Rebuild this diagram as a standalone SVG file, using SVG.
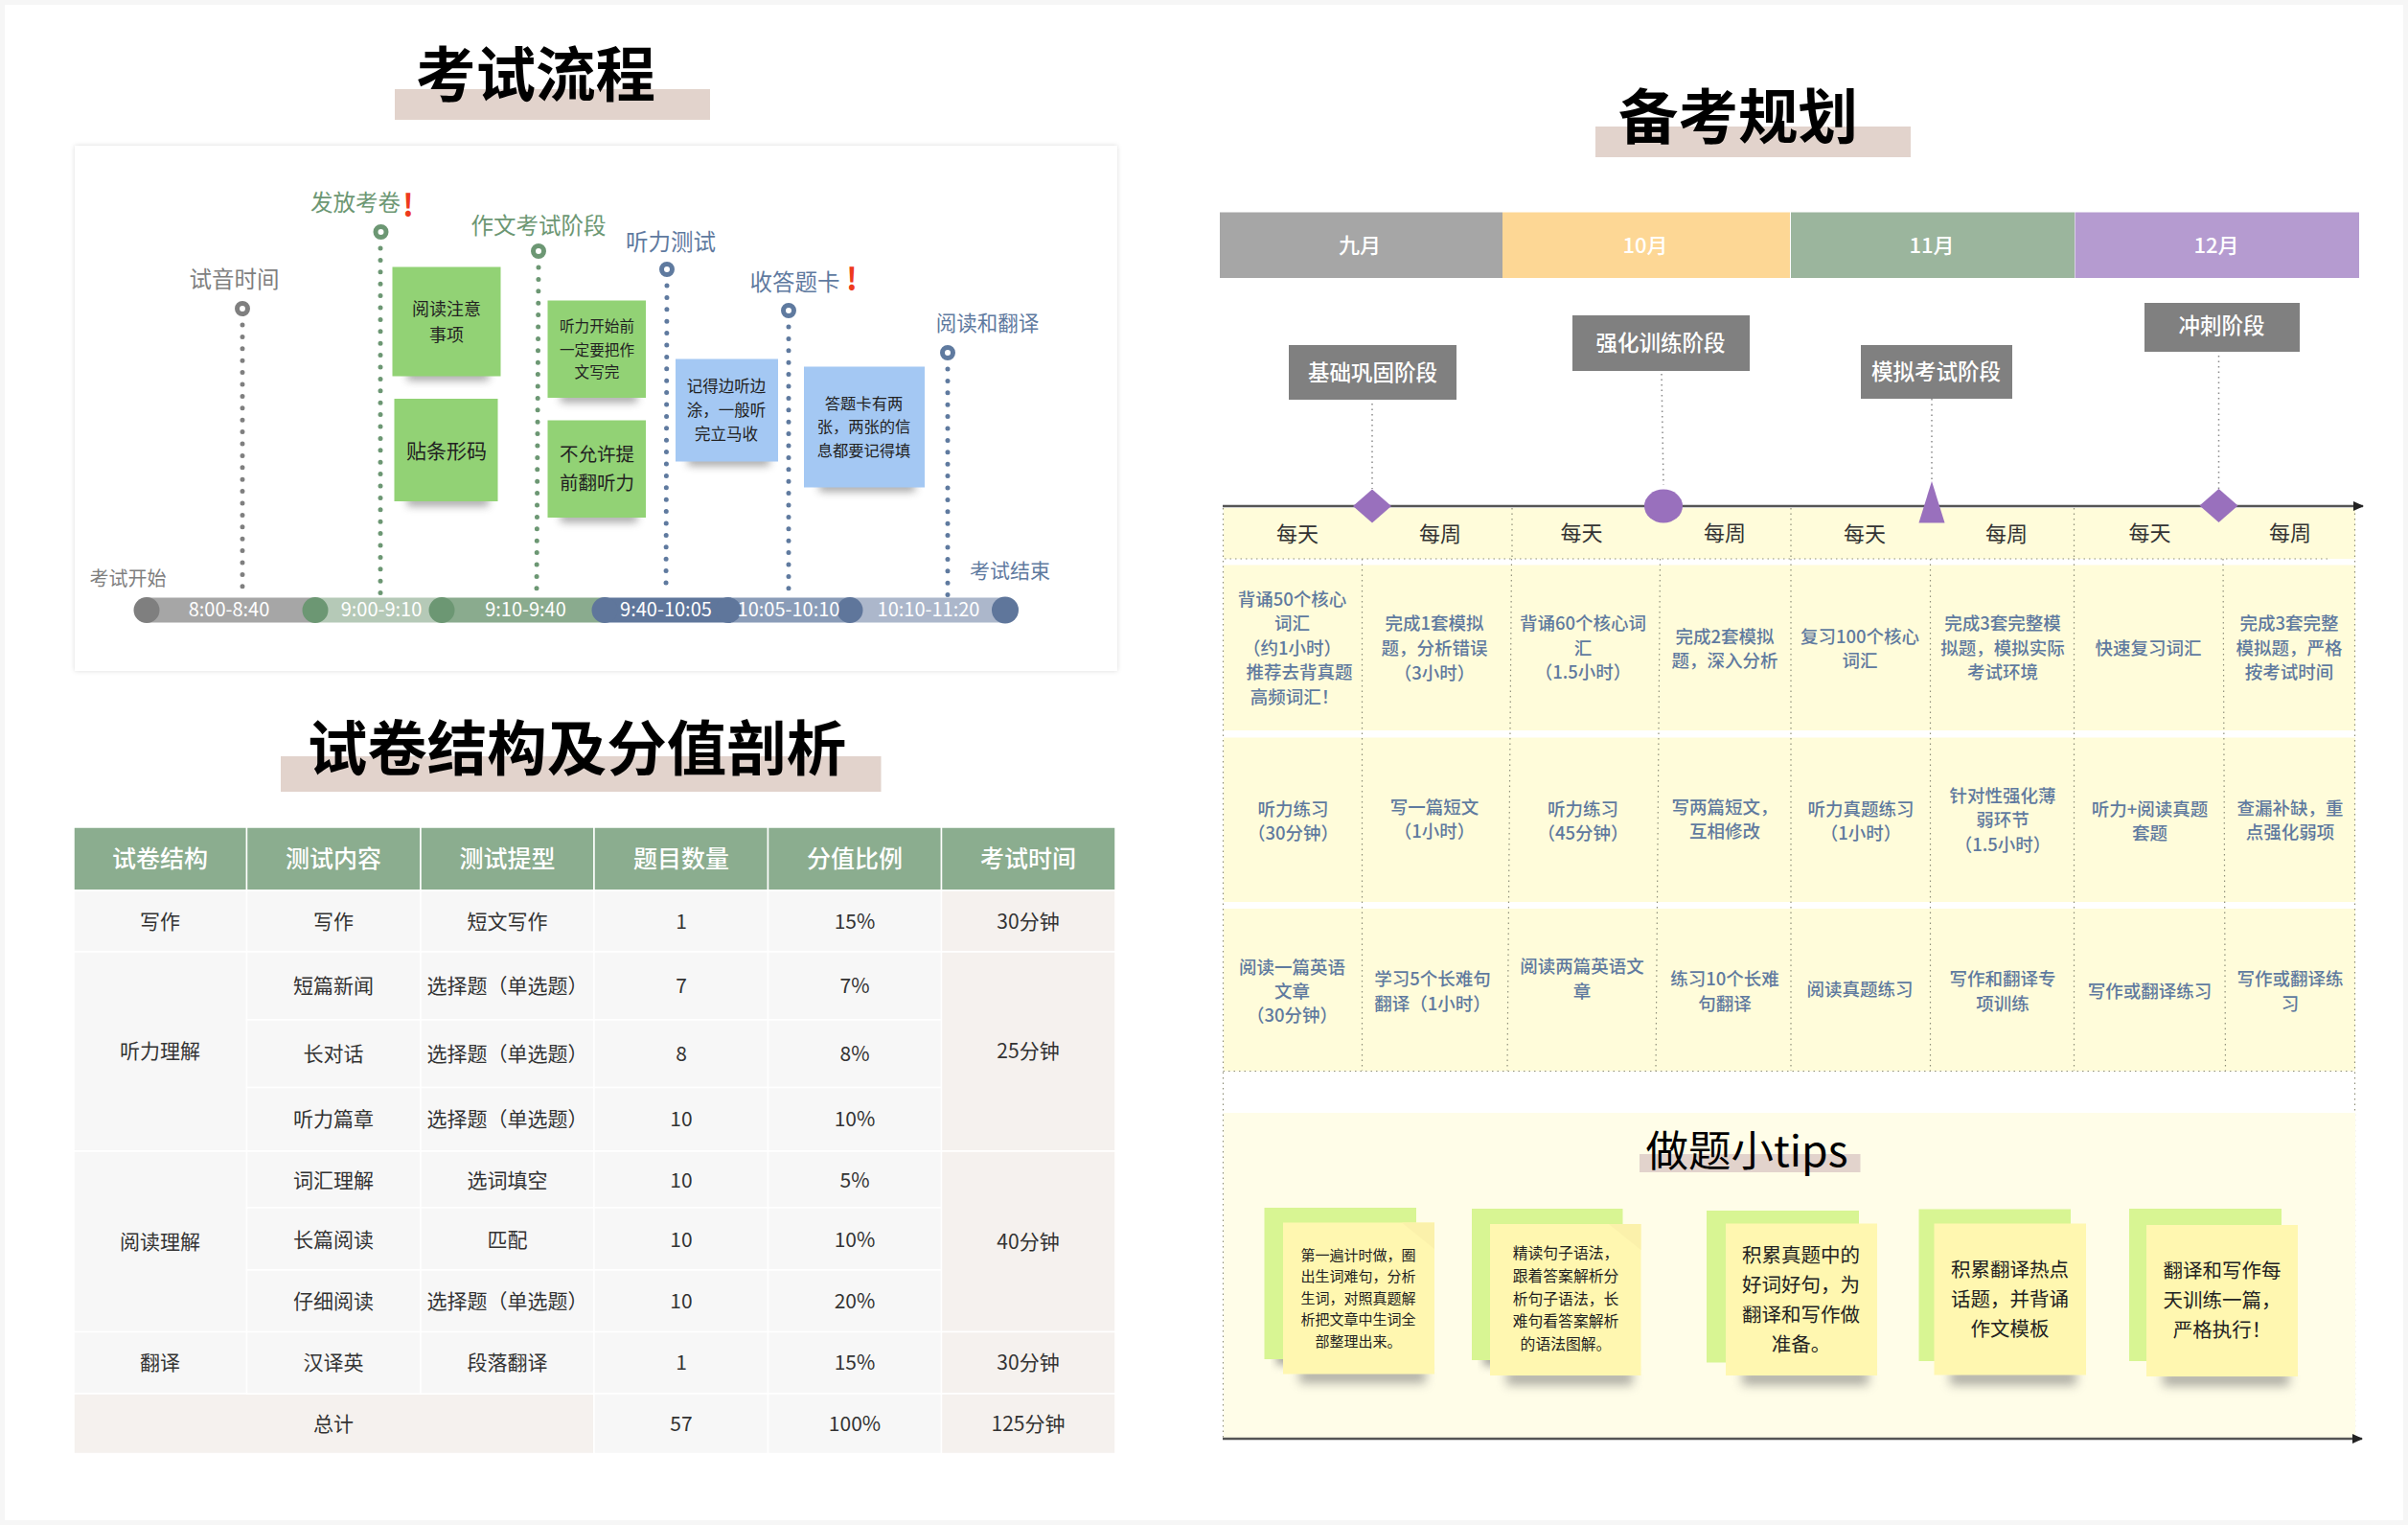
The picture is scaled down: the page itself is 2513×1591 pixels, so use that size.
<svg xmlns="http://www.w3.org/2000/svg" width="2513" height="1591" viewBox="0 0 2513 1591">
<style>
text{font-family:"Noto Sans CJK SC","Noto Sans",sans-serif;text-anchor:middle;dominant-baseline:central;baseline-shift:.07em}
.title{font-size:62.5px;font-weight:700;fill:#000;dominant-baseline:auto;baseline-shift:0}
.tipt{font-size:44.5px;fill:#000;dominant-baseline:auto;baseline-shift:0}
.bar{fill:#e2d3cc}
.seg{font-size:20px;fill:#fff}
.gy{fill:#7f7f7f}.gn{fill:#6c9773}.bl{fill:#5f7a9f}
.tl{font-size:23.5px}
.red{font-size:32px;font-weight:700;fill:#ee3a1c}
.ring{fill:#fff;stroke-width:5}
.ddot{fill:none;stroke-width:5;stroke-linecap:round;stroke-dasharray:0 12.4}
.thin{fill:none;stroke:#8a8a8a;stroke-width:1.5;stroke-dasharray:1.5 4}
.grid{fill:none;stroke:#8f8f7a;stroke-width:1.2;stroke-dasharray:1.5 4}
.sg{fill:#92d275}.sb{fill:#a4c8f3}
.st{fill:#222}
.sh{fill:#6e6e6e;opacity:.6;filter:url(#blur)}
.sh2{fill:#6e6e6e;opacity:.55;filter:url(#blur2)}
.th{fill:#8bad8f;stroke:#fff;stroke-width:1.5}
.tht{font-size:25px;font-weight:500;fill:#fff}
.td{fill:#f7f7f7;stroke:#fff;stroke-width:1.5}
.tt{fill:#f5f1ee;stroke:#fff;stroke-width:1.5}
.tdt{font-size:21px;fill:#333}
.mon{font-size:22px;font-weight:500;fill:#fff}
.ph{fill:#808080}
.pht{font-size:22.5px;font-weight:500;fill:#fff}
.mk{fill:#9970bd}
.yl{fill:#fffcda}
.wd{font-size:22px;fill:#333}
.ct{font-size:18.5px;font-weight:500;fill:#5f7a9f}
.bk{fill:#d8f593}.fr{fill:#fff7b0}.fold{fill:#fbf1ab}
.ax{stroke:#555;stroke-width:2.5;fill:none;marker-end:url(#arr)}
</style>
<defs>
<filter id="blur" x="-30%" y="-200%" width="160%" height="500%"><feGaussianBlur stdDeviation="4"/></filter>
<filter id="blur2" x="-30%" y="-200%" width="160%" height="500%"><feGaussianBlur stdDeviation="5.5"/></filter>
<filter id="card" x="-3%" y="-3%" width="106%" height="106%"><feDropShadow dx="0" dy="0" stdDeviation="2.5" flood-color="#000" flood-opacity=".14"/></filter>
<marker id="arr" markerUnits="userSpaceOnUse" markerWidth="12" markerHeight="10" refX="10" refY="5" orient="auto"><path d="M0 0L11 5L0 10z" fill="#222"/></marker>
</defs>
<rect width="2513" height="1591" fill="#f6f6f6"/>
<rect x="5" y="5" width="2503" height="1581" fill="#fff"/>

<g id="title-exam"><rect class="bar" x="412" y="93" width="329" height="32"/><text class="title" x="559" y="101">考试流程</text></g>
<g id="timeline-card"><rect x="78" y="152" width="1088" height="548" fill="#fff" filter="url(#card)"/></g>

<g id="connectors">
<path class="ddot" stroke="#7f7f7f" d="M253 339V624"/>
<path class="ddot" stroke="#6c9773" d="M397 259V620"/>
<path class="ddot" stroke="#6c9773" d="M562 279L560 616"/>
<path class="ddot" stroke="#5f7a9f" d="M696 298L695 620"/>
<path class="ddot" stroke="#5f7a9f" d="M823 341V616"/>
<path class="ddot" stroke="#5f7a9f" d="M989 385V623"/>
<path class="thin" d="M1432 421V510"/>
<path class="thin" d="M1734 390L1736 506"/>
<path class="thin" d="M2016 416V501"/>
<path class="thin" d="M2315.5 371V510"/>
</g>

<g id="time-bar">
<rect x="153" y="623.5" width="176" height="26" fill="#a6a6a6"/>
<rect x="329" y="623.5" width="132" height="26" fill="#b5c9b7"/>
<rect x="461" y="623.5" width="170" height="26" fill="#8aab8e"/>
<rect x="631" y="623.5" width="128" height="26" fill="#5f769b"/>
<rect x="759" y="623.5" width="128" height="26" fill="#8a9cb8"/>
<rect x="887" y="623.5" width="162" height="26" fill="#acb7cb"/>
<circle cx="153" cy="636.5" r="13.5" fill="#7f7f7f"/>
<circle cx="329" cy="636.5" r="13.5" fill="#6c9773"/>
<circle cx="461" cy="636.5" r="13.5" fill="#6c9773"/>
<circle cx="631" cy="636.5" r="13.5" fill="#5f769b"/>
<circle cx="760" cy="636.5" r="13.5" fill="#5f769b"/>
<circle cx="887" cy="636.5" r="13.5" fill="#5f769b"/>
<circle cx="1049" cy="636.5" r="14" fill="#5f769b"/>
<text class="seg" x="239" y="636">8:00-8:40</text>
<text class="seg" x="398" y="636">9:00-9:10</text>
<text class="seg" x="548.500" y="636">9:10-9:40</text>
<text class="seg" x="695" y="636">9:40-10:05</text>
<text class="seg" x="823" y="636">10:05-10:10</text>
<text class="seg" x="969" y="636">10:10-11:20</text>
</g>

<g id="step-audio"><circle class="ring" stroke="#7f7f7f" cx="253" cy="322" r="5.500"/><text class="tl gy" x="244.500" y="292">试音时间</text></g>
<g id="step-paper"><circle class="ring" stroke="#6c9773" cx="397.500" cy="242" r="5.500"/><text class="tl gn" x="371" y="212">发放考卷</text><text class="red" x="426" y="214">!</text></g>
<g id="step-writing"><circle class="ring" stroke="#6c9773" cx="562" cy="262" r="5.500"/><text class="tl gn" x="562" y="236">作文考试阶段</text></g>
<g id="step-listening"><circle class="ring" stroke="#5f7a9f" cx="696" cy="281" r="5.500"/><text class="tl bl" x="700" y="253">听力测试</text></g>
<g id="step-card"><circle class="ring" stroke="#5f7a9f" cx="823" cy="324" r="5.500"/><text class="tl bl" x="829.500" y="295">收答题卡</text><text class="red" x="889" y="291">!</text></g>
<g id="step-reading"><circle class="ring" stroke="#5f7a9f" cx="989" cy="368" r="5.500"/><text class="bl" style="font-size:21.500px" x="1030.500" y="337">阅读和翻译</text></g>
<g id="label-start"><text class="gy" style="font-size:20px" x="133.500" y="604">考试开始</text></g>
<g id="label-end"><text class="bl" style="font-size:21px" x="1054" y="595.500">考试结束</text></g>

<g id="note-g1"><rect class="sh" x="425" y="386" width="85" height="11"/><rect class="sg" x="409.500" y="278.500" width="113" height="114"/><text class="st" style="font-size:18px"><tspan x="466" y="321.500">阅读注意</tspan><tspan x="466" y="349">事项</tspan></text></g>
<g id="note-g2"><rect class="sh" x="425" y="517" width="85" height="11"/><rect class="sg" x="411.500" y="416" width="108" height="107"/><text class="st" style="font-size:21px" x="466" y="470">贴条形码</text></g>
<g id="note-g3"><rect class="sh" x="585" y="409" width="80" height="11"/><rect class="sg" x="571.500" y="313.500" width="102.500" height="101.500"/><text class="st" style="font-size:15.600px"><tspan x="623" y="340">听力开始前</tspan><tspan x="623" y="364.500">一定要把作</tspan><tspan x="623" y="388">文写完</tspan></text></g>
<g id="note-g4"><rect class="sh" x="585" y="534" width="80" height="11"/><rect class="sg" x="571.500" y="438.500" width="102.500" height="101.500"/><text class="st" style="font-size:19.500px"><tspan x="623" y="474">不允许提</tspan><tspan x="623" y="504">前翻听力</tspan></text></g>
<g id="note-b1"><rect class="sh" x="718" y="475" width="85" height="11"/><rect class="sb" x="705" y="374.500" width="107" height="107"/><text class="st" style="font-size:16.500px"><tspan x="758" y="402.500">记得边听边</tspan><tspan x="758" y="428">涂，一般听</tspan><tspan x="758" y="453">完立马收</tspan></text></g>
<g id="note-b2"><rect class="sh" x="855" y="502" width="100" height="11"/><rect class="sb" x="839" y="382.500" width="126" height="126"/><text class="st" style="font-size:16.300px"><tspan x="901.500" y="421">答题卡有两</tspan><tspan x="901.500" y="445">张，两张的信</tspan><tspan x="901.500" y="470">息都要记得填</tspan></text></g>

<g id="title-analysis"><rect class="bar" x="293" y="789" width="626.500" height="37"/><text class="title" x="602" y="804">试卷结构及分值剖析</text></g>

<g id="table">
<g id="table-header">
<rect class="th" x="77" y="863" width="180.500" height="66"/><rect class="th" x="257.500" y="863" width="181.500" height="66"/><rect class="th" x="439" y="863" width="181" height="66"/><rect class="th" x="620" y="863" width="181.500" height="66"/><rect class="th" x="801.500" y="863" width="181" height="66"/><rect class="th" x="982.500" y="863" width="181.500" height="66"/>
<text class="tht" x="167" y="895.500">试卷结构</text><text class="tht" x="348" y="895.500">测试内容</text><text class="tht" x="529.500" y="895.500">测试提型</text><text class="tht" x="711" y="895.500">题目数量</text><text class="tht" x="892" y="895.500">分值比例</text><text class="tht" x="1073" y="895.500">考试时间</text>
</g>
<g id="table-cells">
<rect class="td" x="77" y="929" width="180.500" height="64"/><rect class="td" x="77" y="993" width="180.500" height="208"/><rect class="td" x="77" y="1201" width="180.500" height="188.500"/><rect class="td" x="77" y="1389.500" width="180.500" height="64.500"/>
<rect class="tt" x="77" y="1454" width="543" height="62.500"/>
<rect class="td" x="257.500" y="929" width="181.500" height="64"/><rect class="td" x="439" y="929" width="181" height="64"/><rect class="td" x="620" y="929" width="181.500" height="64"/><rect class="td" x="801.500" y="929" width="181" height="64"/>
<rect class="td" x="257.500" y="993" width="181.500" height="71"/><rect class="td" x="439" y="993" width="181" height="71"/><rect class="td" x="620" y="993" width="181.500" height="71"/><rect class="td" x="801.500" y="993" width="181" height="71"/>
<rect class="td" x="257.500" y="1064" width="181.500" height="70.500"/><rect class="td" x="439" y="1064" width="181" height="70.500"/><rect class="td" x="620" y="1064" width="181.500" height="70.500"/><rect class="td" x="801.500" y="1064" width="181" height="70.500"/>
<rect class="td" x="257.500" y="1134.500" width="181.500" height="66.500"/><rect class="td" x="439" y="1134.500" width="181" height="66.500"/><rect class="td" x="620" y="1134.500" width="181.500" height="66.500"/><rect class="td" x="801.500" y="1134.500" width="181" height="66.500"/>
<rect class="td" x="257.500" y="1201" width="181.500" height="59"/><rect class="td" x="439" y="1201" width="181" height="59"/><rect class="td" x="620" y="1201" width="181.500" height="59"/><rect class="td" x="801.500" y="1201" width="181" height="59"/>
<rect class="td" x="257.500" y="1260" width="181.500" height="65"/><rect class="td" x="439" y="1260" width="181" height="65"/><rect class="td" x="620" y="1260" width="181.500" height="65"/><rect class="td" x="801.500" y="1260" width="181" height="65"/>
<rect class="td" x="257.500" y="1325" width="181.500" height="64.500"/><rect class="td" x="439" y="1325" width="181" height="64.500"/><rect class="td" x="620" y="1325" width="181.500" height="64.500"/><rect class="td" x="801.500" y="1325" width="181" height="64.500"/>
<rect class="td" x="257.500" y="1389.500" width="181.500" height="64.500"/><rect class="td" x="439" y="1389.500" width="181" height="64.500"/><rect class="td" x="620" y="1389.500" width="181.500" height="64.500"/><rect class="td" x="801.500" y="1389.500" width="181" height="64.500"/>
<rect class="td" x="620" y="1454" width="181.500" height="62.500"/><rect class="td" x="801.500" y="1454" width="181" height="62.500"/>
<rect class="tt" x="982.500" y="929" width="181.500" height="64"/><rect class="tt" x="982.500" y="993" width="181.500" height="208"/><rect class="tt" x="982.500" y="1201" width="181.500" height="188.500"/><rect class="tt" x="982.500" y="1389.500" width="181.500" height="64.500"/><rect class="tt" x="982.500" y="1454" width="181.500" height="62.500"/>
</g>
<g id="table-text">
<text class="tdt" x="167" y="961">写作</text><text class="tdt" x="348" y="961">写作</text><text class="tdt" x="529.500" y="961">短文写作</text><text class="tdt" x="711" y="961">1</text><text class="tdt" x="892" y="961">15%</text><text class="tdt" x="1073" y="961">30分钟</text>
<text class="tdt" x="167" y="1096.500">听力理解</text><text class="tdt" x="1073" y="1096.500">25分钟</text>
<text class="tdt" x="348" y="1028.500">短篇新闻</text><text class="tdt" x="529.500" y="1028.500">选择题（单选题）</text><text class="tdt" x="711" y="1028.500">7</text><text class="tdt" x="892" y="1028.500">7%</text>
<text class="tdt" x="348" y="1099">长对话</text><text class="tdt" x="529.500" y="1099">选择题（单选题）</text><text class="tdt" x="711" y="1099">8</text><text class="tdt" x="892" y="1099">8%</text>
<text class="tdt" x="348" y="1167">听力篇章</text><text class="tdt" x="529.500" y="1167">选择题（单选题）</text><text class="tdt" x="711" y="1167">10</text><text class="tdt" x="892" y="1167">10%</text>
<text class="tdt" x="167" y="1295">阅读理解</text><text class="tdt" x="1073" y="1295">40分钟</text>
<text class="tdt" x="348" y="1231.500">词汇理解</text><text class="tdt" x="529.500" y="1231.500">选词填空</text><text class="tdt" x="711" y="1231.500">10</text><text class="tdt" x="892" y="1231.500">5%</text>
<text class="tdt" x="348" y="1293.500">长篇阅读</text><text class="tdt" x="529.500" y="1293.500">匹配</text><text class="tdt" x="711" y="1293.500">10</text><text class="tdt" x="892" y="1293.500">10%</text>
<text class="tdt" x="348" y="1357">仔细阅读</text><text class="tdt" x="529.500" y="1357">选择题（单选题）</text><text class="tdt" x="711" y="1357">10</text><text class="tdt" x="892" y="1357">20%</text>
<text class="tdt" x="167" y="1421">翻译</text><text class="tdt" x="348" y="1421">汉译英</text><text class="tdt" x="529.500" y="1421">段落翻译</text><text class="tdt" x="711" y="1421">1</text><text class="tdt" x="892" y="1421">15%</text><text class="tdt" x="1073" y="1421">30分钟</text>
<text class="tdt" x="348" y="1485.500">总计</text><text class="tdt" x="711" y="1485.500">57</text><text class="tdt" x="892" y="1485.500">100%</text><text class="tdt" x="1073" y="1485.500">125分钟</text>
</g>
</g>

<g id="title-plan"><rect class="bar" x="1665" y="132" width="329" height="32"/><text class="title" x="1814" y="145">备考规划</text></g>

<g id="months">
<rect x="1273" y="221.500" width="295" height="68.500" fill="#a6a6a6"/><rect x="1568" y="221.500" width="300" height="68.500" fill="#fdd795"/><rect x="1869" y="221.500" width="296" height="68.500" fill="#9bb59d"/><rect x="2165.500" y="221.500" width="296.500" height="68.500" fill="#b59bd0"/>
<text class="mon" x="1419" y="255.500">九月</text><text class="mon" x="1717" y="255.500">10月</text><text class="mon" x="2016" y="255.500">11月</text><text class="mon" x="2313" y="255.500">12月</text>
</g>

<g id="plan-grid">
<rect class="yl" x="1277" y="530" width="1181" height="53"/>
<rect class="yl" x="1277" y="589.500" width="1181" height="172.500"/>
<rect class="yl" x="1277" y="769.500" width="1181" height="171.500"/>
<rect class="yl" x="1277" y="948" width="1181" height="169.500"/>
<path class="grid" d="M1276.500 530V1500M2457.500 530V1500M1578 530V583M1869 530V583M2164.500 530V583M1278 583H2430M1276.500 1117.500H2458"/>
<path class="grid" d="M1421.500 583V1117M1577.500 583L1573 1117M1732.500 583L1728 1117M1869 583V1117M2014.500 583V1117M2164.500 583V1117M2320 583L2322.500 1117"/>
</g>

<g id="phase-1"><rect class="ph" x="1345" y="360" width="175" height="57"/><text class="pht" x="1432.500" y="388.500">基础巩固阶段</text></g>
<g id="phase-2"><rect class="ph" x="1641" y="329" width="185" height="58"/><text class="pht" x="1733" y="357.500">强化训练阶段</text></g>
<g id="phase-3"><rect class="ph" x="1942" y="360" width="158" height="56"/><text class="pht" x="2020.500" y="388">模拟考试阶段</text></g>
<g id="phase-4"><rect class="ph" x="2238" y="316" width="162" height="51"/><text class="pht" x="2318.500" y="340">冲刺阶段</text></g>

<g id="axis-top"><path class="ax" d="M1276 528H2466"/></g>
<g id="marker-1"><path class="mk" d="M1432 510.500L1452 528L1432 545.500L1412 528z"/></g>
<g id="marker-2"><ellipse class="mk" cx="1736" cy="528" rx="20" ry="17.500"/></g>
<g id="marker-3"><path class="mk" d="M2016 502L2029.500 545.500H2002.500z"/></g>
<g id="marker-4"><path class="mk" d="M2315.500 510L2335.500 527.500L2315.500 545L2295.500 527.500z"/></g>

<g id="plan-heads">
<text class="wd" x="1354" y="557">每天</text><text class="wd" x="1503" y="557">每周</text><text class="wd" x="1650.500" y="556">每天</text><text class="wd" x="1800" y="556">每周</text><text class="wd" x="1946" y="557">每天</text><text class="wd" x="2094" y="557">每周</text><text class="wd" x="2243.500" y="556">每天</text><text class="wd" x="2390" y="556">每周</text>
</g>

<g id="plan-row-1">
<text class="ct"><tspan x="1348.500" y="625">背诵50个核心</tspan><tspan x="1348.500" y="650">词汇</tspan><tspan x="1348.500" y="676">（约1小时）</tspan><tspan x="1356" y="701">推荐去背真题</tspan><tspan x="1351" y="726.500">高频词汇！</tspan></text>
<text class="ct"><tspan x="1497" y="650">完成1套模拟</tspan><tspan x="1497" y="676">题，分析错误</tspan><tspan x="1497" y="701.500">（3小时）</tspan></text>
<text class="ct"><tspan x="1652" y="650">背诵60个核心词</tspan><tspan x="1652" y="676">汇</tspan><tspan x="1652" y="701">（1.5小时）</tspan></text>
<text class="ct"><tspan x="1800" y="663.500">完成2套模拟</tspan><tspan x="1800" y="689">题，深入分析</tspan></text>
<text class="ct"><tspan x="1941" y="663.500">复习100个核心</tspan><tspan x="1941" y="689">词汇</tspan></text>
<text class="ct"><tspan x="2090" y="650">完成3套完整模</tspan><tspan x="2090" y="676">拟题，模拟实际</tspan><tspan x="2090" y="701">考试环境</tspan></text>
<text class="ct" x="2242" y="676">快速复习词汇</text>
<text class="ct"><tspan x="2389" y="650">完成3套完整</tspan><tspan x="2389" y="676">模拟题，严格</tspan><tspan x="2389" y="701">按考试时间</tspan></text>
</g>
<g id="plan-row-2">
<text class="ct"><tspan x="1349.500" y="843.500">听力练习</tspan><tspan x="1349.500" y="868.500">（30分钟）</tspan></text>
<text class="ct"><tspan x="1497" y="842">写一篇短文</tspan><tspan x="1497" y="867">（1小时）</tspan></text>
<text class="ct"><tspan x="1652" y="843.500">听力练习</tspan><tspan x="1652" y="868.500">（45分钟）</tspan></text>
<text class="ct"><tspan x="1800" y="842">写两篇短文，</tspan><tspan x="1800" y="867">互相修改</tspan></text>
<text class="ct"><tspan x="1942" y="843.500">听力真题练习</tspan><tspan x="1942" y="868.500">（1小时）</tspan></text>
<text class="ct"><tspan x="2090" y="829.500">针对性强化薄</tspan><tspan x="2090" y="855">弱环节</tspan><tspan x="2090" y="880.500">（1.5小时）</tspan></text>
<text class="ct"><tspan x="2243.500" y="843.500">听力+阅读真题</tspan><tspan x="2243.500" y="868.500">套题</tspan></text>
<text class="ct"><tspan x="2390" y="843">查漏补缺，重</tspan><tspan x="2390" y="868">点强化弱项</tspan></text>
</g>
<g id="plan-row-3">
<text class="ct"><tspan x="1348.500" y="1009">阅读一篇英语</tspan><tspan x="1348.500" y="1034">文章</tspan><tspan x="1348.500" y="1059">（30分钟）</tspan></text>
<text class="ct"><tspan x="1495" y="1021">学习5个长难句</tspan><tspan x="1495" y="1046.500">翻译（1小时）</tspan></text>
<text class="ct"><tspan x="1651" y="1008">阅读两篇英语文</tspan><tspan x="1651" y="1034">章</tspan></text>
<text class="ct"><tspan x="1800" y="1021">练习10个长难</tspan><tspan x="1800" y="1046.500">句翻译</tspan></text>
<text class="ct" x="1941" y="1032">阅读真题练习</text>
<text class="ct"><tspan x="2090" y="1021">写作和翻译专</tspan><tspan x="2090" y="1046.500">项训练</tspan></text>
<text class="ct" x="2243.500" y="1034">写作或翻译练习</text>
<text class="ct"><tspan x="2390" y="1021">写作或翻译练</tspan><tspan x="2390" y="1046.500">习</tspan></text>
</g>

<g id="tips-panel"><rect x="1277" y="1161" width="1181" height="340" fill="#fffde8"/></g>
<g id="axis-bottom"><path class="ax" d="M1276 1501H2465"/></g>
<g id="title-tips"><rect class="bar" x="1711" y="1204" width="230.500" height="19"/><text class="tipt" x="1823" y="1217">做题小tips</text></g>

<g id="tip-1"><rect class="sh" x="1332" y="1410" width="20" height="14"/><rect class="bk" x="1319.500" y="1260" width="158.500" height="158"/><rect class="sh2" x="1356" y="1428" width="132" height="15"/><rect class="fr" x="1339" y="1275.500" width="158" height="158"/><path class="fold" d="M1463 1275.500H1497V1303z"/><text class="st" style="font-size:15px"><tspan x="1417.500" y="1309.500">第一遍计时做，圈</tspan><tspan x="1417.500" y="1332">出生词难句，分析</tspan><tspan x="1417.500" y="1354.500">生词，对照真题解</tspan><tspan x="1417.500" y="1377">析把文章中生词全</tspan><tspan x="1417.500" y="1399.500">部整理出来。</tspan></text></g>
<g id="tip-2"><rect class="sh" x="1548" y="1411" width="20" height="14"/><rect class="bk" x="1536" y="1261" width="157.500" height="158"/><rect class="sh2" x="1572" y="1430" width="132" height="15"/><rect class="fr" x="1555" y="1277" width="157.500" height="158"/><path class="fold" d="M1679 1277H1712.500V1304z"/><text class="st" style="font-size:15.800px"><tspan x="1634" y="1308">精读句子语法，</tspan><tspan x="1634" y="1332">跟着答案解析分</tspan><tspan x="1634" y="1356">析句子语法，长</tspan><tspan x="1634" y="1379">难句看答案解析</tspan><tspan x="1634" y="1403">的语法图解。</tspan></text></g>
<g id="tip-3"><rect class="bk" x="1781" y="1263" width="159" height="158.500"/><rect class="sh2" x="1818" y="1430" width="132" height="15"/><rect class="fr" x="1801" y="1276.500" width="158" height="158.500"/><text class="st" style="font-size:20.500px"><tspan x="1879.500" y="1309">积累真题中的</tspan><tspan x="1879.500" y="1340">好词好句，为</tspan><tspan x="1879.500" y="1371">翻译和写作做</tspan><tspan x="1879.500" y="1401.500">准备。</tspan></text></g>
<g id="tip-4"><rect class="bk" x="2002.500" y="1261.500" width="158.500" height="158.500"/><rect class="sh2" x="2035" y="1430" width="132" height="15"/><rect class="fr" x="2018.500" y="1276.500" width="158.500" height="158"/><text class="st" style="font-size:20.500px"><tspan x="2097.500" y="1324">积累翻译热点</tspan><tspan x="2097.500" y="1355">话题，并背诵</tspan><tspan x="2097.500" y="1386">作文模板</tspan></text></g>
<g id="tip-5"><rect class="bk" x="2222" y="1261" width="159" height="159"/><rect class="sh2" x="2257" y="1431" width="132" height="15"/><rect class="fr" x="2240" y="1278" width="158" height="158"/><text class="st" style="font-size:20.500px"><tspan x="2319" y="1325">翻译和写作每</tspan><tspan x="2319" y="1356">天训练一篇，</tspan><tspan x="2319" y="1387">严格执行！</tspan></text></g>
</svg>
